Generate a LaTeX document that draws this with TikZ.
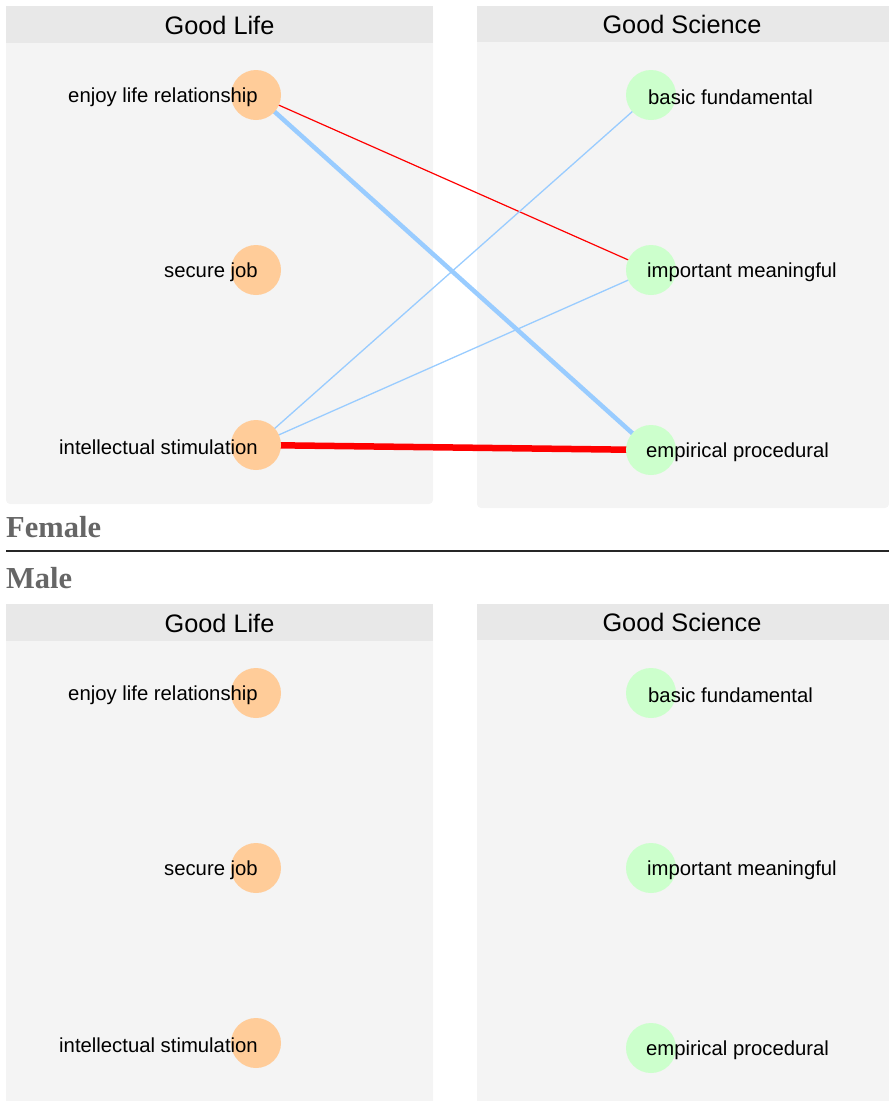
\documentclass[tikz,border=0pt]{standalone}
\usepackage{fontspec}
\setmainfont{Liberation Sans}
\newfontfamily\titlefont{Liberation Serif}
\usepackage{tikz}
\usetikzlibrary{positioning}
\definecolor{panelbody}{RGB}{244,244,244}
\definecolor{panelhead}{RGB}{232,232,232}
\definecolor{lifefill}{RGB}{255,204,153}
\definecolor{scifill}{RGB}{204,255,204}
\definecolor{posblue}{RGB}{153,204,255}
\definecolor{negred}{RGB}{255,0,0}
\definecolor{grouptext}{RGB}{102,102,102}
\pgfdeclarelayer{panel}
\pgfdeclarelayer{edge}
\pgfsetlayers{panel,edge,main}
\tikzset{
  body/.style={fill=panelbody, rounded corners=4pt},
  head/.style={fill=panelhead},
  headtext/.style={font=\fontsize{25.3}{30}\selectfont},
  lifenode/.style={circle, fill=lifefill, minimum size=50pt, inner sep=0pt},
  scinode/.style={circle, fill=scifill, minimum size=50pt, inner sep=0pt},
  lbltext/.style={font=\fontsize{20.3}{24}\selectfont, inner sep=0pt, yshift=-2pt},
  grouplabel/.style={font=\titlefont\bfseries\fontsize{30.5}{36}\selectfont, text=grouptext, inner sep=0pt, anchor=base west},
  redthin/.style={negred, line width=1.2pt},
  redthick/.style={negred, line width=6.5pt},
  bluethin/.style={posblue, line width=1.3pt},
  bluethick/.style={posblue, line width=4.5pt}
}

\begin{document}
\begin{tikzpicture}[x=1pt, y=-1pt]
  \useasboundingbox (0,0) rectangle (889,1101);

  % Female panels
  \begin{pgfonlayer}{panel}
    \fill[body] (6,6) rectangle (433,504);
    \fill[head] (6,6) rectangle (433,43);
    \fill[body] (477,6) rectangle (889,508);
    \fill[head] (477,6) rectangle (889,42);
  \end{pgfonlayer}
  \node[headtext] (fhl) at (219.5,25) {Good Life};
  \node[headtext] (fhs) at (682,24) {Good Science};

  \node[lifenode] (fl1) at (256,95) {};
  \node[lifenode] (fl2) at (256,270) {};
  \node[lifenode] (fl3) at (256,445) {};
  \node[scinode] (fs1) at (651,95) {};
  \node[scinode] (fs2) at (651,270) {};
  \node[scinode] (fs3) at (651,450) {};

  \node[lbltext, anchor=east] (fl1t) at ([xshift=2pt]fl1.center) {enjoy life relationship};
  \node[lbltext, anchor=east] (fl2t) at ([xshift=2pt]fl2.center) {secure job};
  \node[lbltext, anchor=east] (fl3t) at ([xshift=2pt]fl3.center) {intellectual stimulation};
  \node[lbltext, anchor=west] (fs1t) at ([xshift=-3pt]fs1.center) {basic fundamental};
  \node[lbltext, anchor=west] (fs2t) at ([xshift=-4pt]fs2.center) {important meaningful};
  \node[lbltext, anchor=west] (fs3t) at ([xshift=-5pt]fs3.center) {empirical procedural};

  \begin{pgfonlayer}{edge}
    \draw[redthin] (fl1.center) -- (fs2.center);
    \draw[bluethick] (fl1.center) -- (fs3.center);
    \draw[bluethin] (fl3.center) -- (fs1.center);
    \draw[bluethin] (fl3.center) -- (fs2.center);
    \draw[redthick] (fl3.center) -- (fs3.center);
  \end{pgfonlayer}

  % Group divider
  \node[grouplabel] (female) at (6,537) {Female};
  \coordinate (divl) at (6,551);
  \coordinate (divr) at (889,551);
  \draw[line width=1.5pt, black!85] (divl) -- (divr);
  \node[grouplabel] (male) at (6,588) {Male};

  % Male panels
  \begin{pgfonlayer}{panel}
    \fill[body] (6,604) rectangle (433,1105);
    \fill[head] (6,604) rectangle (433,641);
    \fill[body] (477,604) rectangle (889,1105);
    \fill[head] (477,604) rectangle (889,640);
  \end{pgfonlayer}
  \node[headtext] (mhl) at (219.5,623) {Good Life};
  \node[headtext] (mhs) at (682,622) {Good Science};

  \node[lifenode] (ml1) at (256,693) {};
  \node[lifenode] (ml2) at (256,868) {};
  \node[lifenode] (ml3) at (256,1043) {};
  \node[scinode] (ms1) at (651,693) {};
  \node[scinode] (ms2) at (651,868) {};
  \node[scinode] (ms3) at (651,1048) {};

  \node[lbltext, anchor=east] (ml1t) at ([xshift=2pt]ml1.center) {enjoy life relationship};
  \node[lbltext, anchor=east] (ml2t) at ([xshift=2pt]ml2.center) {secure job};
  \node[lbltext, anchor=east] (ml3t) at ([xshift=2pt]ml3.center) {intellectual stimulation};
  \node[lbltext, anchor=west] (ms1t) at ([xshift=-3pt]ms1.center) {basic fundamental};
  \node[lbltext, anchor=west] (ms2t) at ([xshift=-4pt]ms2.center) {important meaningful};
  \node[lbltext, anchor=west] (ms3t) at ([xshift=-5pt]ms3.center) {empirical procedural};
\end{tikzpicture}
\end{document}
